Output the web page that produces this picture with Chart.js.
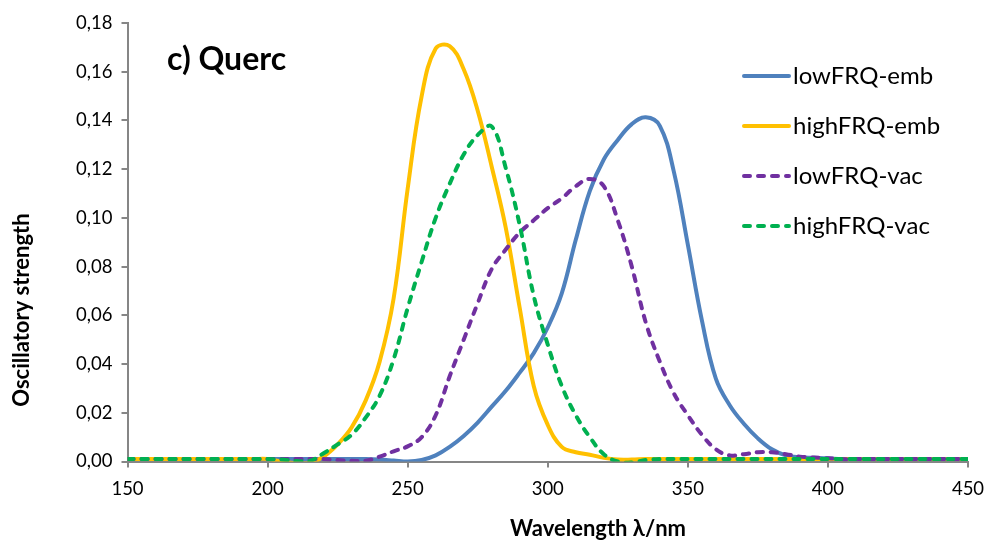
<!DOCTYPE html>
<html lang="en">
<head>
    <meta charset="UTF-8">
    <title>c) Querc - Oscillatory strength</title>
    <script src="https://cdn.jsdelivr.net/npm/chart.js"></script>
    <style>
        html, body { margin: 0; padding: 0; background: #fff; }
        .chart-box { width: 985px; height: 541px; position: relative; }
    </style>
</head>
<body>
    <div class="chart-box">
        <canvas id="spectrumChart"></canvas>
    </div>

    <script>
        // wavelength grid (nm), 5 nm steps
        const wavelengths = [];
        for (let w = 150; w <= 450; w += 5) wavelengths.push(w);

        // values, one per wavelength above
        const lowFrqEmb = [
            0.001, 0.001, 0.001, 0.001, 0.001, 0.001, 0.001, 0.001, 0.001, 0.001, // 150-195
            0.001, 0.001, 0.001, 0.001, 0.001, 0.001, 0.001, 0.001, 0.0008, 0.0004, // 200-245
            0.0, 0.0006, 0.0025, 0.006, 0.0105, 0.016, 0.0225, 0.029, 0.0365, 0.0445, // 250-295
            0.055, 0.069, 0.091, 0.111, 0.124, 0.132, 0.1385, 0.1413, 0.1378, 0.119, // 300-345
            0.089, 0.058, 0.034, 0.023, 0.0155, 0.0095, 0.005, 0.0025, 0.0017, 0.0015, // 350-395
            0.0013, 0.001, 0.001, 0.001, 0.001, 0.001, 0.001, 0.001, 0.001, 0.001, // 400-445
            0.001 // 450
        ];
        const highFrqEmb = [
            0.001, 0.001, 0.001, 0.001, 0.001, 0.001, 0.001, 0.001, 0.001, 0.001,
            0.001, 0.0, -0.0007, -0.0006, 0.002, 0.007, 0.014, 0.025, 0.041, 0.067,
            0.112, 0.150, 0.1695, 0.1705, 0.161, 0.144, 0.121, 0.096, 0.063, 0.031,
            0.015, 0.006, 0.0038, 0.0028, 0.0015, 0.0008, 0.0008, 0.001, 0.001, 0.001,
            0.001, 0.001, 0.001, 0.001, 0.001, 0.001, 0.001, 0.001, 0.001, 0.001,
            0.001, 0.001, 0.001, 0.001, 0.001, 0.001, 0.001, 0.001, 0.001, 0.001,
            0.001
        ];
        const lowFrqVac = [
            0.001, 0.001, 0.001, 0.001, 0.001, 0.001, 0.001, 0.001, 0.001, 0.001,
            0.001, 0.001, 0.001, 0.001, 0.001, 0.0006, 0.0003, 0.0003, 0.002, 0.0042,
            0.0062, 0.010, 0.019, 0.035, 0.050, 0.065, 0.079, 0.087, 0.094, 0.099,
            0.104, 0.108, 0.113, 0.116, 0.113, 0.099, 0.080, 0.057, 0.041, 0.028,
            0.019, 0.011, 0.005, 0.0025, 0.003, 0.0038, 0.0038, 0.003, 0.002, 0.0016,
            0.0013, 0.001, 0.001, 0.001, 0.001, 0.001, 0.001, 0.001, 0.001, 0.001,
            0.001
        ];
        const highFrqVac = [
            0.001, 0.001, 0.001, 0.001, 0.001, 0.001, 0.001, 0.001, 0.001, 0.001,
            0.001, 0.0008, 0.0002, 0.0002, 0.0034, 0.007, 0.011, 0.018, 0.027, 0.042,
            0.063, 0.082, 0.100, 0.114, 0.126, 0.134, 0.1375, 0.1205, 0.097, 0.068,
            0.048, 0.031, 0.019, 0.010, 0.003, 0.0, -0.0004, 0.0006, 0.001, 0.001,
            0.001, 0.001, 0.001, 0.001, 0.001, 0.001, 0.001, 0.001, 0.001, 0.001,
            0.001, 0.001, 0.001, 0.001, 0.001, 0.001, 0.001, 0.001, 0.001, 0.001,
            0.001
        ];

        const seriesNames = ['lowFRQ-emb', 'highFRQ-emb', 'lowFRQ-vac', 'highFRQ-vac'];
        const xTicks = [150, 200, 250, 300, 350, 400, 450];
        const yTicks = [0, 0.02, 0.04, 0.06, 0.08, 0.10, 0.12, 0.14, 0.16, 0.18];

        const FONT = 'Lato, "Open Sans", sans-serif';
        const AXIS_GREY = '#868686';

        function pts(vals) {
            return wavelengths.map((w, i) => ({ x: w, y: vals[i] }));
        }

        // panel label, legend box and both axis titles drawn by hand (they sit off-centre in the original)
        const decorations = {
            id: 'decorations',
            afterDraw(chart) {
                const ctx = chart.ctx;
                ctx.save();
                ctx.fillStyle = '#000';
                ctx.textBaseline = 'middle';

                ctx.font = 'bold 32px ' + FONT;
                ctx.textAlign = 'left';
                ctx.fillText('c) Querc', 167, 60);

                ctx.font = 'bold 22px ' + FONT;
                ctx.textAlign = 'center';
                ctx.fillText('Wavelength λ/nm', 598, 529);

                ctx.save();
                ctx.translate(22, 310);
                ctx.rotate(-Math.PI / 2);
                ctx.fillText('Oscillatory strength', 0, 0);
                ctx.restore();

                ctx.textAlign = 'left';
                ctx.font = '24px ' + FONT;
                chart.data.datasets.forEach((ds, i) => {
                    const y = 76 + i * 50;
                    ctx.strokeStyle = ds.borderColor;
                    ctx.lineWidth = 4;
                    ctx.lineCap = 'round';
                    ctx.setLineDash(ds.borderDash || []);
                    ctx.beginPath();
                    ctx.moveTo(744, y);
                    ctx.lineTo(789, y);
                    ctx.stroke();
                    ctx.setLineDash([]);
                    ctx.fillText(ds.label, 793, y);
                });
                ctx.restore();
            }
        };

        const ctx = document.getElementById('spectrumChart').getContext('2d');
        const spectrumChart = new Chart(ctx, {
            type: 'line',
            data: {
                datasets: [{
                    label: seriesNames[0],
                    data: pts(lowFrqEmb),
                    borderColor: '#4F81BD',
                    order: 4
                }, {
                    label: seriesNames[1],
                    data: pts(highFrqEmb),
                    borderColor: '#FFC000',
                    order: 3
                }, {
                    label: seriesNames[2],
                    data: pts(lowFrqVac),
                    borderColor: '#7030A0',
                    borderDash: [6, 8],
                    order: 2
                }, {
                    label: seriesNames[3],
                    data: pts(highFrqVac),
                    borderColor: '#00B050',
                    borderDash: [6, 8],
                    order: 1
                }]
            },
            options: {
                responsive: true,
                maintainAspectRatio: false,
                animation: false,
                layout: { padding: { top: 23, right: 17, left: 0, bottom: 0 } },
                elements: {
                    point: { radius: 0 },
                    line: {
                        borderWidth: 4,
                        tension: 0.4,
                        borderCapStyle: 'round',
                        borderJoinStyle: 'round',
                        fill: false
                    }
                },
                plugins: {
                    legend: { display: false },
                    tooltip: { enabled: false }
                },
                scales: {
                    x: {
                        type: 'linear',
                        min: 150,
                        max: 450,
                        afterBuildTicks: s => { s.ticks = xTicks.map(v => ({ value: v })); },
                        afterFit: s => { s.height = 79.5; s.paddingLeft = 0; s.paddingRight = 0; },
                        grid: { drawOnChartArea: false, drawTicks: true, tickLength: 6, color: AXIS_GREY, lineWidth: 2 },
                        border: { color: AXIS_GREY, width: 2 },
                        ticks: { color: '#000', font: { family: FONT, size: 18.5 }, padding: 10, maxRotation: 0 }
                    },
                    y: {
                        min: 0,
                        max: 0.18,
                        afterBuildTicks: s => { s.ticks = yTicks.map(v => ({ value: v })); },
                        afterFit: s => { s.width = 127.5; s.paddingTop = 0; s.paddingBottom = 0; },
                        grid: { drawOnChartArea: false, drawTicks: true, tickLength: 6, color: AXIS_GREY, lineWidth: 2 },
                        border: { color: AXIS_GREY, width: 2 },
                        ticks: {
                            color: '#000',
                            font: { family: FONT, size: 18.5 },
                            padding: 9,
                            callback: v => v.toFixed(2).replace('.', ',')
                        }
                    }
                }
            },
            plugins: [decorations]
        });
    </script>
</body>
</html>
